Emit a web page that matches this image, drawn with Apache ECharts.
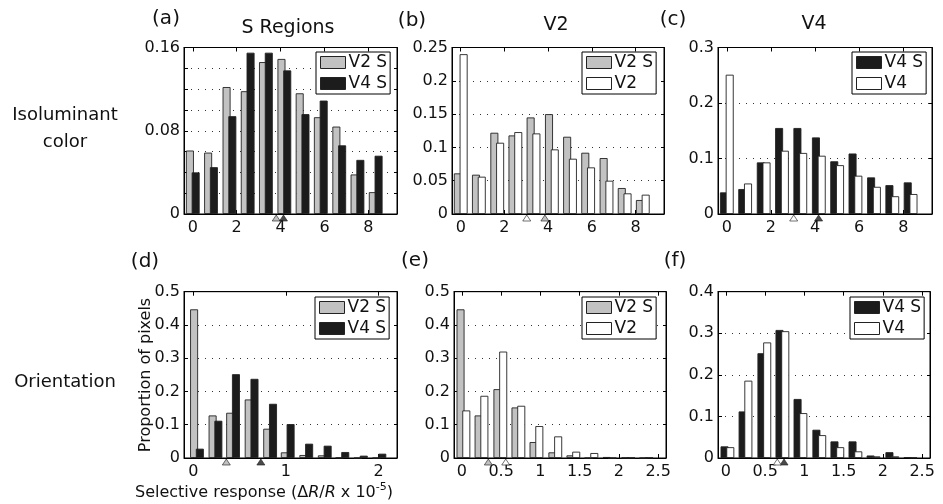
<!DOCTYPE html>
<html><head><meta charset="utf-8">
<script src="https://cdn.jsdelivr.net/npm/echarts@6/dist/echarts.min.js"></script>
<style>html,body{margin:0;padding:0;background:#fff}#c{width:943px;height:504px}</style>
</head><body><div id="c"></div>
<script>
const FONT = 'DejaVu Sans';
// bin centres (x)
const binsTop = [0, 0.83, 1.67, 2.5, 3.33, 4.17, 5, 5.83, 6.67, 7.5, 8.33];
const binsD = [0.04, 0.24, 0.43, 0.63, 0.83, 1.02, 1.22, 1.42, 1.61, 1.81, 2.01];
const binsEF = [0.02, 0.25, 0.49, 0.72, 0.95, 1.19, 1.42, 1.65, 1.88, 2.12, 2.35];
// tick labels
const ticksTop = [0, 2, 4, 6, 8];
const ticksD = [0, 1, 2];
const ticksEF = [0, 0.5, 1, 1.5, 2, 2.5];
// series values
const aV2S = [0.061, 0.059, 0.122, 0.118, 0.146, 0.149, 0.116, 0.093, 0.084, 0.038, 0.021];
const aV4S = [0.040, 0.045, 0.094, 0.155, 0.155, 0.138, 0.096, 0.109, 0.066, 0.052, 0.056];
const bV2S = [0.061, 0.059, 0.122, 0.118, 0.145, 0.150, 0.116, 0.092, 0.084, 0.039, 0.021];
const bV2  = [0.240, 0.056, 0.107, 0.123, 0.121, 0.097, 0.083, 0.070, 0.050, 0.031, 0.029];
const cV4S = [0.039, 0.045, 0.093, 0.155, 0.155, 0.138, 0.095, 0.109, 0.066, 0.052, 0.057];
const cV4  = [0.251, 0.055, 0.093, 0.114, 0.110, 0.105, 0.088, 0.069, 0.049, 0.032, 0.036];
const dV2S = [0.447, 0.128, 0.136, 0.176, 0.088, 0.017, 0.009, 0.008, 0.001, 0, 0];
const dV4S = [0.028, 0.112, 0.252, 0.238, 0.163, 0.102, 0.043, 0.037, 0.018, 0.007, 0.013];
const eV2S = [0.447, 0.128, 0.207, 0.152, 0.048, 0.017, 0.008, 0, 0.003, 0.001, 0];
const eV2  = [0.143, 0.187, 0.320, 0.157, 0.096, 0.065, 0.019, 0.015, 0, 0.001, 0.001];
const fV4S = [0.028, 0.112, 0.252, 0.308, 0.142, 0.068, 0.040, 0.040, 0.006, 0.014, 0.002];
const fV4  = [0.026, 0.186, 0.278, 0.305, 0.108, 0.055, 0.026, 0.016, 0.004, 0.004, 0.001];
// medians (triangles under the axis), in series order
const aMed = [3.8, 4.13];
const bMed = [3.85, 3.02];
const cMed = [4.16, 3.03];
const dMed = [0.357, 0.73];
const eMed = [0.337, 0.559];
const fMed = [0.741, 0.655];

const COL = {'V2 S': '#c2c2c2', 'V4 S': '#1c1c1c', 'V2': '#ffffff', 'V4': '#ffffff'};

const panels = [
  {box:[184, 47.5, 213, 166.5], x:[-0.4, 9.3], ticks: ticksTop, y:[0.16, 0.02], yLab:[0, 0.08, 0.16], bins: binsTop,
   s:[['V2 S', aV2S], ['V4 S', aV4S]], med: aMed, leg:[316, 52]},
  {box:[452, 47.5, 212, 166.5], x:[-0.4, 9.3], ticks: ticksTop, y:[0.25, 0.05], yLab:null, bins: binsTop,
   s:[['V2 S', bV2S], ['V2', bV2]], med: bMed, leg:[582, 52]},
  {box:[718, 47.5, 214, 166.5], x:[-0.4, 9.3], ticks: ticksTop, y:[0.3, 0.1], yLab:null, bins: binsTop,
   s:[['V4 S', cV4S], ['V4', cV4]], med: cMed, leg:[852, 52]},
  {box:[184, 291.7, 213, 166.3], x:[-0.1, 2.2], ticks: ticksD, y:[0.5, 0.1], yLab:null, bins: binsD,
   s:[['V2 S', dV2S], ['V4 S', dV4S]], med: dMed, leg:[315, 297]},
  {box:[454, 291.7, 212, 166.3], x:[-0.1, 2.6], ticks: ticksEF, y:[0.5, 0.1], yLab:null, bins: binsEF,
   s:[['V2 S', eV2S], ['V2', eV2]], med: eMed, leg:[582, 297]},
  {box:[718, 291.7, 212, 166.3], x:[-0.1, 2.6], ticks: ticksEF, y:[0.4, 0.1], yLab:null, bins: binsEF,
   s:[['V4 S', fV4S], ['V4', fV4]], med: fMed, leg:[850, 297]}
];

const grid = [], xAxis = [], yAxis = [], series = [], legend = [];
const axisText = {fontFamily: FONT, fontSize: 16, color: '#111'};
const blackLine = {show: true, onZero: false, lineStyle: {color: '#000', width: 1}};
panels.forEach((p, i) => {
  grid.push({left: p.box[0], top: p.box[1], width: p.box[2], height: p.box[3], show: true,
    borderColor: '#000', borderWidth: 1, backgroundColor: '#fff'});
  const xi = xAxis.length, yi = yAxis.length;
  xAxis.push({type: 'value', gridIndex: i, min: p.x[0], max: p.x[1], position: 'bottom',
    axisLine: blackLine,
    axisTick: {show: true, inside: true, length: 4, customValues: p.ticks, lineStyle: {color: '#000'}},
    axisLabel: Object.assign({customValues: p.ticks, margin: 6}, axisText),
    splitLine: {show: false}});
  xAxis.push({type: 'value', gridIndex: i, min: p.x[0], max: p.x[1], position: 'top',
    axisLine: blackLine,
    axisTick: {show: true, inside: true, length: 4, customValues: p.ticks, lineStyle: {color: '#000'}},
    axisLabel: {show: false}, splitLine: {show: false}});
  const yl = p.yLab;
  yAxis.push({type: 'value', gridIndex: i, min: 0, max: p.y[0], interval: p.y[1], position: 'left',
    axisLine: blackLine,
    axisTick: {show: true, inside: true, length: 4, lineStyle: {color: '#000'}},
    axisLabel: Object.assign({margin: 4, formatter: v => {
        if (!yl) return String(+v.toFixed(3));
        return yl.some(t => Math.abs(t - v) < 1e-9) ? String(+v.toFixed(3)) : '';
      }}, axisText),
    splitLine: {show: true, lineStyle: {color: '#333', type: [1, 6], width: 1}}});
  yAxis.push({type: 'value', gridIndex: i, min: 0, max: p.y[0], interval: p.y[1], position: 'right',
    axisLine: blackLine,
    axisTick: {show: true, inside: true, length: 3, lineStyle: {color: '#000'}},
    axisLabel: {show: false}, splitLine: {show: false}});
  p.s.forEach(([name, vals]) => {
    series.push({type: 'bar', name: name, xAxisIndex: xi, yAxisIndex: yi,
      data: p.bins.map((b, k) => [b, vals[k]]),
      barWidth: 8, barGap: '-28%', silent: true,
      itemStyle: {color: COL[name], borderColor: '#222', borderWidth: 0.9}});
  });
  series.push({type: 'scatter', xAxisIndex: xi, yAxisIndex: yi, clip: false, silent: true, z: 10,
    symbol: 'triangle', symbolSize: [8, 6], symbolOffset: [0, 4],
    data: p.s.map(([name], k) => ({value: [p.med[k], 0],
      itemStyle: {color: name === 'V2 S' ? '#b0b0b0' : COL[name], borderColor: '#222', borderWidth: 0.8}}))});
  legend.push({left: p.leg[0], top: p.leg[1], orient: 'vertical', selectedMode: false,
    backgroundColor: '#fff', borderColor: '#000', borderWidth: 1,
    padding: [2, 3, 2, 4], itemGap: 4, itemWidth: 25, itemHeight: 12, z: 20,
    textStyle: {fontFamily: FONT, fontSize: 17, color: '#111', padding: [0, 0, 0, -2]},
    data: p.s.map(([name]) => ({name: name, icon: 'rect',
      itemStyle: {color: COL[name], borderColor: '#222', borderWidth: 1}}))});
});

function txt(t, x, y, size, extra) {
  return Object.assign({type: 'text', x: x, y: y, z: 50,
    style: {text: t, font: size + 'px "' + FONT + '"', fill: '#111', align: 'center', verticalAlign: 'middle'}}, extra || {});
}
const graphic = [
  txt('(a)', 166, 19, 20), txt('(b)', 412, 21, 20), txt('(c)', 673, 20, 20),
  txt('(d)', 145, 262, 20), txt('(e)', 415, 261, 20), txt('(f)', 675, 261, 20),
  txt('S Regions', 288, 28, 19), txt('V2', 556, 25, 19), txt('V4', 814, 24, 19),
  txt('Isoluminant', 65, 115, 18), txt('color', 65, 142, 18), txt('Orientation', 65, 382, 18),
  txt('Proportion of pixels', 146, 375, 16, {rotation: Math.PI / 2}),
  {type: 'text', x: 264, y: 493, z: 50, style: {
    text: '{n|Selective response (Δ}{i|R}{n|/}{i|R}{n| x 10}{s|-5}{n|)}',
    align: 'center', verticalAlign: 'middle', fill: '#111',
    rich: {
      n: {fontFamily: FONT, fontSize: 16, fill: '#111'},
      i: {fontFamily: FONT, fontSize: 16, fontStyle: 'italic', fill: '#111'},
      s: {fontFamily: FONT, fontSize: 11, fill: '#111', padding: [0, 0, 12, 0]}
    }}}
];

const chart = echarts.init(document.getElementById('c'), null, {renderer: 'canvas'});
chart.setOption({animation: false, backgroundColor: '#fff', grid, xAxis, yAxis, series, legend, graphic});
</script></body></html>
